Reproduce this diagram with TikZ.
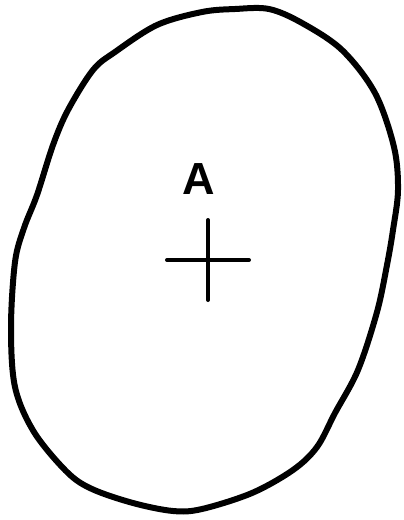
\documentclass[tikz,border=0pt]{standalone}
\usepackage{fontspec}
\setmainfont{Liberation Sans}
\begin{document}
\begin{tikzpicture}[x=1pt,y=-1pt,
  outline/.style={line width=6pt,line join=round},
  crossline/.style={line width=4pt,line cap=round},
  lbl/.style={font=\bfseries\fontsize{45}{47}\selectfont,inner sep=0pt}]
\useasboundingbox (0,0) rectangle (404,520);
\draw[outline] plot[smooth cycle,tension=0.55] coordinates {
 (235,9) (269,9) (302,23) (342,50) (375,93) (394,147) (398,190) (393,230)
 (387,265) (377,312) (358,370) (335,413) (317,447) (293,470) (252,493)
 (202,509) (173,511) (133,503) (92,489) (67,472) (34,432) (15,387) (11,327)
 (15,262) (24,228) (37,195) (53,145) (68,110) (93,70) (115,52) (157,25) (202,12)};
\node[lbl] (A) at (199,179) {A};
\coordinate (c) at (208,260);
\draw[crossline] (167,260) -- (249,260);
\draw[crossline] (208,220) -- (208,300);
\end{tikzpicture}
\end{document}
